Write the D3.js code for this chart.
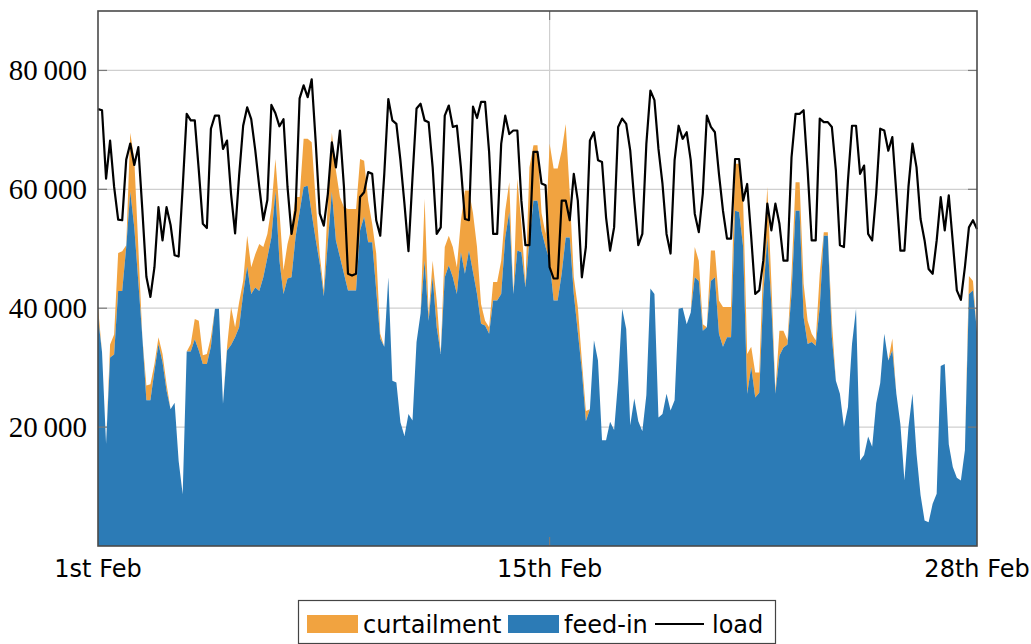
<!DOCTYPE html>
<html>
<head>
<meta charset="utf-8">
<script src="https://cdn.jsdelivr.net/npm/d3@7/dist/d3.min.js"></script>
<style>
  body { margin: 0; background: #fff; }
  .ytick { font-family: "Liberation Serif", serif; font-size: 29px; fill: #000; }
  .xtick, .legend text { font-family: "DejaVu Sans", sans-serif; font-size: 24px; fill: #000; }
</style>
</head>
<body>
<svg id="chart" width="1031" height="644"></svg>
<script>
// three-hourly samples, in thousands (MW), starting 1st Feb 00:00
const STEP_HOURS = 3;

const loadK = [
  73.5, 73.3, 61.8, 68.2, 60.4, 54.9, 54.8, 65.0, 67.7, 64.1,
  67.1, 56.5, 45.3, 41.9, 46.9, 57.0, 51.4, 57.0, 54.0, 48.9,
  48.7, 60.3, 72.7, 71.6, 71.6, 63.2, 54.2, 53.5, 70.2, 72.4,
  72.4, 66.8, 68.2, 59.2, 52.6, 62.3, 70.7, 73.8, 71.8, 66.6,
  60.4, 54.8, 58.2, 74.2, 72.8, 70.6, 71.8, 60.4, 52.5, 56.5,
  75.3, 77.5, 75.5, 78.5, 67.9, 55.9, 53.9, 59.2, 67.9, 63.7,
  69.9, 60.4, 45.8, 45.5, 45.8, 58.7, 59.5, 62.9, 62.6, 54.8,
  52.2, 62.6, 75.2, 71.6, 71.0, 64.9, 57.6, 49.6, 62.0, 73.6,
  74.4, 71.6, 71.3, 63.7, 52.5, 53.6, 72.4, 74.1, 70.5, 70.7,
  63.7, 55.0, 54.8, 73.9, 72.0, 74.7, 74.7, 66.3, 52.5, 52.5,
  67.7, 72.4, 69.3, 69.9, 69.9, 58.1, 50.6, 50.6, 66.3, 66.3,
  61.0, 60.7, 46.9, 45.0, 45.0, 58.1, 58.1, 54.8, 62.6, 58.1,
  45.2, 50.3, 68.2, 69.6, 64.9, 64.6, 55.3, 49.7, 53.6, 70.5,
  71.9, 71.0, 66.5, 58.1, 50.6, 52.5, 67.7, 76.6, 75.0, 66.8,
  60.9, 52.5, 49.2, 64.9, 70.7, 68.5, 69.6, 64.9, 55.9, 52.8,
  59.3, 72.4, 70.5, 69.6, 62.6, 56.4, 51.7, 51.7, 65.1, 65.1,
  58.1, 60.9, 52.0, 42.4, 43.0, 48.0, 57.6, 53.1, 57.6, 54.2,
  48.0, 48.0, 65.4, 72.7, 72.7, 73.3, 63.2, 51.4, 51.4, 71.9,
  71.3, 71.3, 70.5, 63.2, 50.6, 50.3, 61.5, 70.7, 70.7, 62.6,
  64.0, 52.5, 51.4, 59.3, 70.2, 69.9, 66.5, 68.8, 59.3, 49.7,
  49.7, 60.4, 67.7, 63.7, 55.0, 51.4, 46.6, 45.8, 51.4, 58.7,
  53.1, 59.0, 51.1, 43.0, 41.4, 46.9, 53.6, 54.8, 53.3
];

const feedInK = [
  38.5, 32.6, 17.2, 31.7, 32.2, 42.9, 42.9, 50.3, 59.6, 53.6,
  44.4, 35.1, 24.5, 24.5, 29.5, 34.0, 30.9, 26.1, 23.0, 24.1,
  14.3, 8.7, 32.7, 32.7, 34.8, 32.9, 30.6, 30.6, 33.5, 39.9,
  39.9, 23.9, 32.9, 33.8, 35.1, 36.8, 42.4, 47.0, 42.4, 43.5,
  42.9, 45.2, 48.5, 51.9, 59.7, 48.0, 42.4, 45.0, 45.2, 52.0,
  56.2, 60.4, 60.6, 55.9, 51.5, 47.5, 42.0, 51.1, 59.6, 51.4,
  48.6, 45.8, 43.0, 43.0, 43.0, 53.1, 55.4, 51.1, 51.1, 43.0,
  34.9, 33.5, 45.2, 27.8, 27.5, 20.8, 18.5, 22.2, 21.1, 34.3,
  39.1, 48.0, 37.9, 45.2, 36.8, 32.3, 45.2, 47.2, 45.2, 42.4,
  49.4, 45.8, 49.7, 46.1, 42.4, 37.4, 37.1, 35.7, 41.3, 41.3,
  42.4, 51.9, 56.2, 42.4, 49.7, 49.4, 43.5, 51.4, 58.1, 58.1,
  53.0, 50.3, 48.0, 41.3, 41.3, 45.8, 51.9, 51.9, 42.4, 36.0,
  29.5, 21.0, 23.0, 34.6, 31.2, 17.8, 17.8, 20.9, 19.5, 27.8,
  39.9, 36.5, 20.3, 24.8, 21.0, 19.3, 25.4, 43.3, 42.4, 21.6,
  22.2, 25.6, 22.8, 24.5, 39.9, 40.1, 37.3, 39.3, 45.2, 44.6,
  36.2, 36.8, 44.6, 45.2, 35.7, 33.5, 35.1, 35.1, 56.4, 56.2,
  50.3, 25.6, 30.1, 25.0, 25.8, 42.4, 51.9, 40.5, 25.6, 32.0,
  33.4, 33.9, 42.4, 56.4, 56.4, 38.5, 34.0, 34.3, 33.7, 40.2,
  52.2, 52.2, 35.1, 27.8, 25.6, 20.0, 23.4, 34.0, 39.9, 14.4,
  15.3, 18.4, 16.7, 24.0, 27.4, 35.7, 31.2, 32.9, 25.6, 20.5,
  11.0, 20.0, 25.6, 15.5, 8.6, 4.3, 4.0, 7.1, 8.8, 30.3,
  30.6, 17.1, 13.3, 11.5, 11.0, 16.1, 42.4, 43.0, 36.0
];

const curtailmentK = [
  1.7, 0, 0, 2.2, 3.4, 6.4, 6.7, 0.3, 9.9, 11.4,
  5.9, 0, 2.5, 2.7, 1.1, 1.1, 1.4, 1.1, 0, 0,
  0, 0, 0, 1.3, 3.4, 5.0, 1.5, 1.7, 1.6, 0,
  0, 0, 0.6, 6.4, 1.7, 4.2, 2.2, 5.2, 4.5, 5.6,
  7.9, 5.1, 4.0, 5.0, 5.4, 8.4, 4.0, 5.8, 8.4, 6.7,
  2.5, 8.1, 7.9, 12.0, 6.5, 1.5, 1.0, 7.0, 9.9, 11.8,
  10.1, 11.2, 13.7, 13.7, 13.7, 12.0, 9.4, 7.0, 3.1, 6.2,
  0.8, 0, 0, 0, 0, 0, 0, 0, 0, 0,
  0, 10.4, 1.1, 2.8, 4.5, 0, 5.1, 5.0, 5.1, 4.5,
  5.3, 14.0, 10.1, 9.9, 7.9, 3.3, 0.8, 1.1, 3.1, 3.1,
  5.6, 4.5, 5.0, 0, 12.1, 4.8, 0.6, 12.3, 9.3, 9.3,
  3.0, 2.2, 19.7, 22.2, 22.2, 20.7, 19.1, 7.4, 2.8, 4.2,
  1.7, 1.7, 0, 0, 0, 0, 0, 0, 0, 0,
  0, 0, 0, 0, 0, 0, 0, 0, 0, 0,
  0, 0, 0, 0, 0, 0, 0, 0, 5.1, 3.4,
  1.1, 0, 5.1, 4.5, 5.6, 6.7, 5.1, 5.1, 7.9, 8.1,
  7.8, 6.7, 3.4, 4.2, 3.4, 5.6, 8.5, 3.9, 0.5, 4.2,
  2.8, 0.7, 3.4, 4.8, 4.8, 5.6, 3.9, 1.4, 0.9, 5.6,
  0.6, 0.6, 2.8, 0, 0, 0, 0, 0, 0, 0,
  0, 0, 0, 0, 0, 0, 0, 2.0, 0, 0,
  0, 0, 0, 0, 0, 0, 0, 0, 0, 0,
  0, 0, 0, 0, 0, 0, 3.0, 1.6, 0
];

const yTicks = [20000, 40000, 60000, 80000];
const xTickHours = [0, 336, 654];
const xTickLabels = ["1st Feb", "15th Feb", "28th Feb"];

const series = ["curtailment", "feed-in", "load"];
const colors = { "curtailment": "#f1a340", "feed-in": "#2c7bb6", "load": "#000" };

// rows for the chart
const rows = loadK.map((l, i) => ({
  hour: i * STEP_HOURS,
  load: l * 1000,
  feedIn: feedInK[i] * 1000,
  curtail: curtailmentK[i] * 1000
}));

const svg = d3.select("#chart");
const plot = { left: 98, right: 977, top: 11, bottom: 546 };

const x = d3.scaleLinear().domain([0, 654]).range([plot.left, plot.right]);
const y = d3.scaleLinear().domain([0, 90000]).range([plot.bottom, plot.top]);

const fmt = d3.formatLocale({ decimal: ".", thousands: "\u2009", grouping: [3], currency: ["", ""] }).format(",");

// grid
const grid = svg.append("g");
grid.selectAll("line.hg").data(yTicks).join("line")
  .attr("x1", plot.left).attr("x2", plot.right)
  .attr("y1", d => y(d)).attr("y2", d => y(d))
  .attr("stroke", "#cfcfcf").attr("stroke-width", 1.2);
grid.append("line")
  .attr("x1", x(336)).attr("x2", x(336))
  .attr("y1", plot.top).attr("y2", plot.bottom)
  .attr("stroke", "#cfcfcf").attr("stroke-width", 1.2);

// stacked areas
const feedArea = d3.area()
  .x(d => x(d.hour))
  .y0(y(0))
  .y1(d => y(d.feedIn));
const curtArea = d3.area()
  .x(d => x(d.hour))
  .y0(d => y(d.feedIn))
  .y1(d => y(d.feedIn + d.curtail));

svg.append("path").datum(rows)
  .attr("d", curtArea)
  .attr("fill", colors["curtailment"]);
svg.append("path").datum(rows)
  .attr("d", feedArea)
  .attr("fill", colors["feed-in"]);

// load line
svg.append("path").datum(rows)
  .attr("d", d3.line().x(d => x(d.hour)).y(d => y(d.load)))
  .attr("fill", "none")
  .attr("stroke", colors["load"])
  .attr("stroke-width", 2.2)
  .attr("stroke-linejoin", "round");

// tick marks (inside, both sides)
const ticks = svg.append("g").attr("stroke", "#7a7a7a").attr("stroke-width", 1.2);
yTicks.forEach(t => {
  ticks.append("line").attr("x1", plot.left).attr("x2", plot.left + 9).attr("y1", y(t)).attr("y2", y(t));
  ticks.append("line").attr("x1", plot.right).attr("x2", plot.right - 9).attr("y1", y(t)).attr("y2", y(t));
});
ticks.append("line").attr("x1", x(336)).attr("x2", x(336)).attr("y1", plot.bottom).attr("y2", plot.bottom - 9);
ticks.append("line").attr("x1", x(336)).attr("x2", x(336)).attr("y1", plot.top).attr("y2", plot.top + 9);

// frame
svg.append("rect")
  .attr("x", plot.left).attr("y", plot.top)
  .attr("width", plot.right - plot.left).attr("height", plot.bottom - plot.top)
  .attr("fill", "none").attr("stroke", "#4a4a4a").attr("stroke-width", 1.6);

// tick labels
svg.selectAll("text.ytick").data(yTicks).join("text")
  .attr("class", "ytick")
  .attr("x", 87).attr("y", d => y(d) + 10)
  .attr("text-anchor", "end")
  .text(d => fmt(d));

svg.selectAll("text.xtick").data(xTickHours).join("text")
  .attr("class", "xtick")
  .attr("x", d => x(d)).attr("y", 577)
  .attr("text-anchor", "middle")
  .text((d, i) => xTickLabels[i]);

// legend
const legend = svg.append("g").attr("class", "legend");
legend.append("rect")
  .attr("x", 298.5).attr("y", 600.5).attr("width", 477).attr("height", 43)
  .attr("fill", "#fff").attr("stroke", "#444").attr("stroke-width", 1.2);

const legendX = { "curtailment": 307, "feed-in": 508, "load": 655 };
series.forEach(s => {
  const lx = legendX[s];
  if (s === "load") {
    legend.append("line")
      .attr("x1", lx).attr("x2", lx + 49).attr("y1", 624).attr("y2", 624)
      .attr("stroke", colors[s]).attr("stroke-width", 2);
    legend.append("text").attr("x", lx + 57).attr("y", 633).text(s);
  } else {
    legend.append("rect")
      .attr("x", lx).attr("y", 615).attr("width", 51).attr("height", 18)
      .attr("fill", colors[s]);
    legend.append("text").attr("x", lx + 56).attr("y", 633).text(s);
  }
});
</script>
</body>
</html>
